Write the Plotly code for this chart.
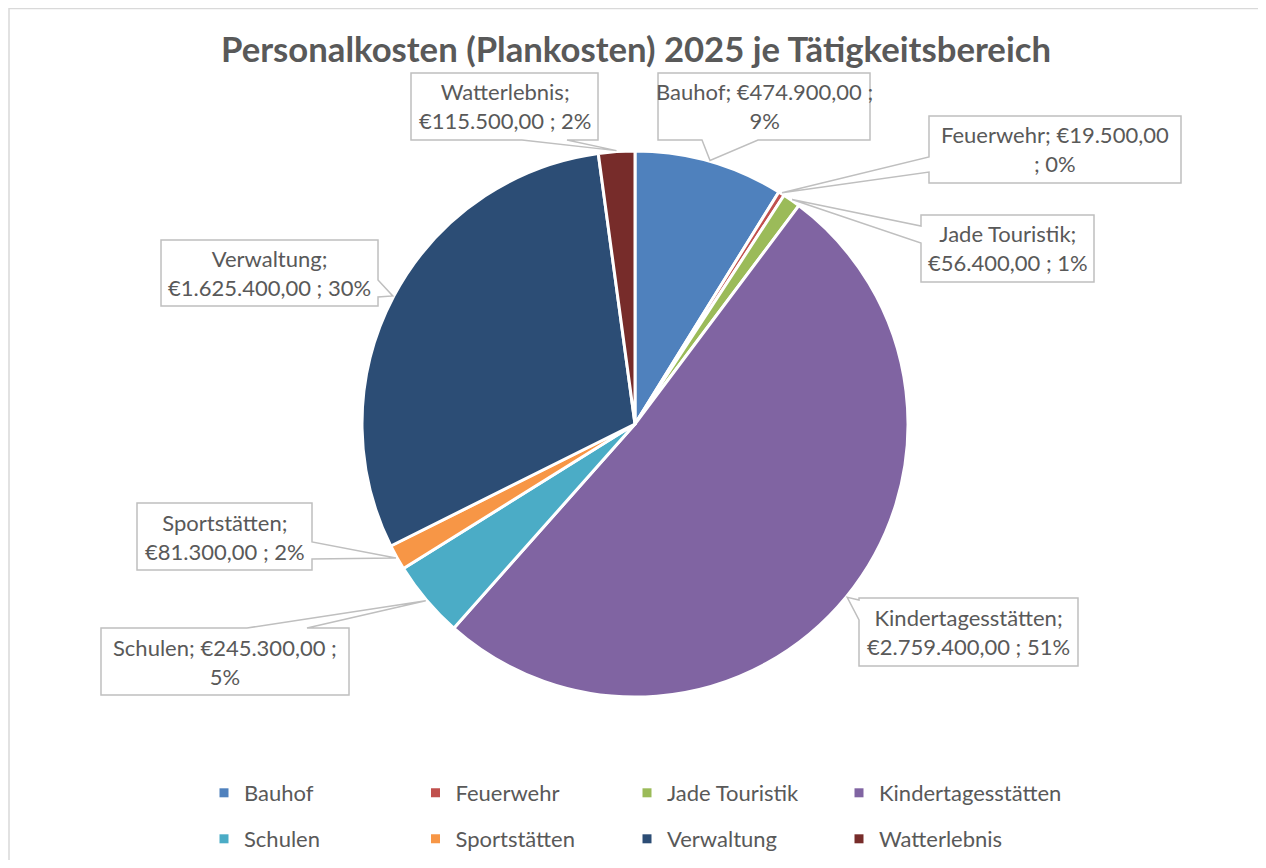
import math
import plotly.graph_objects as go

# ---- data ----
categories = ["Bauhof", "Feuerwehr", "Jade Touristik", "Kindertagesstätten",
              "Schulen", "Sportstätten", "Verwaltung", "Watterlebnis"]
costs_eur = [474900, 19500, 56400, 2759400, 245300, 81300, 1625400, 115500]
colors = ["#4F81BD", "#C0504D", "#9BBB59", "#8064A2",
          "#4BACC6", "#F79646", "#2C4D75", "#772C2A"]
title_text = "Personalkosten (Plankosten) 2025 je Tätigkeitsbereich"

# ---- layout / style (page pixel coordinates of the reference) ----
OFF = 8                      # browser body margin
W, H = 1256, 852
TXT = "#595959"
BOX = "#BFBFBF"
FONT = "Lato"
CX, CY, R = 635, 424, 273    # pie centre / radius

wrap_mode = {"Bauhof": "after_value", "Feuerwehr": "before_pct", "Schulen": "after_value"}
# callout boxes: (x0, y0, x1, y1, pointer side, base a, base b)
callouts = {
    "Watterlebnis": (411, 73, 598, 140, "bottom", 522, 567),
    "Bauhof": (658, 73, 870, 140, "bottom", 702, 758),
    "Feuerwehr": (929, 116, 1181, 183, "left", 157, 172),
    "Jade Touristik": (921, 215, 1094, 282, "left", 226, 243),
    "Kindertagesstätten": (859, 598, 1078, 666, "left", 600, 620),
    "Schulen": (101, 628, 349, 695, "top", 247, 307),
    "Sportstätten": (137, 503, 312, 570, "right", 542, 559),
    "Verwaltung": (161, 240, 378, 306, "right", 280, 297),
}
legend_col_x = [227, 438.5, 650, 862]   # marker centres
legend_row_y = [793, 839]


def fx(x):
    return (x - OFF) / W


def fy(y):
    return 1 - (y - OFF) / H


def eur(v):
    s = f"{v:,.2f}"
    s = s.replace(",", "X").replace(".", ",").replace("X", ".")
    return "€" + s


total = sum(costs_eur)

fig = go.Figure()
fig.add_trace(go.Pie(
    labels=categories, values=costs_eur, sort=False, direction="clockwise",
    rotation=0, textinfo="none", hoverinfo="label+value+percent",
    marker=dict(colors=colors, line=dict(color="white", width=3)),
    domain=dict(x=[fx(CX - R), fx(CX + R)], y=[fy(CY + R), fy(CY - R)]),
    showlegend=False,
))

legends = {}
for i, (name, c) in enumerate(zip(categories, colors)):
    key = "legend" if i == 0 else f"legend{i + 1}"
    fig.add_trace(go.Scatter(x=[None], y=[None], mode="markers", name=name,
                             marker=dict(symbol="square", size=9, color=c),
                             legend=key, hoverinfo="skip"))
    col, row = i % 4, i // 4
    legends[key] = dict(x=fx(legend_col_x[col] - 23), xanchor="left",
                        y=fy(legend_row_y[row]), yanchor="middle",
                        font=dict(family=FONT, size=22, color=TXT),
                        bgcolor="rgba(0,0,0,0)", borderwidth=0)

shapes = []
annotations = []
cum = 0.0
for name, v in zip(categories, costs_eur):
    mid = (cum + v / 2) / total * 2 * math.pi
    cum += v
    tx = CX + (R + 1) * math.sin(mid)
    ty = CY - (R + 1) * math.cos(mid)
    pct = f"{round(v / total * 100)}%"
    mode = wrap_mode.get(name, "after_name")
    if mode == "after_value":
        text = f"{name}; {eur(v)} ;<br>{pct}"
    elif mode == "before_pct":
        text = f"{name}; {eur(v)}<br>; {pct}"
    else:
        text = f"{name};<br>{eur(v)} ; {pct}"
    x0, y0, x1, y1, side, a, b = callouts[name]
    if side == "bottom":
        pts = [(x0, y0), (x1, y0), (x1, y1), (b, y1), (tx, ty), (a, y1), (x0, y1)]
    elif side == "top":
        pts = [(x0, y0), (a, y0), (tx, ty), (b, y0), (x1, y0), (x1, y1), (x0, y1)]
    elif side == "left":
        pts = [(x0, y0), (x1, y0), (x1, y1), (x0, y1), (x0, b), (tx, ty), (x0, a)]
    else:
        pts = [(x0, y0), (x1, y0), (x1, a), (tx, ty), (x1, b), (x1, y1), (x0, y1)]
    path = "M " + " L ".join(f"{fx(x):.5f},{fy(y):.5f}" for x, y in pts) + " Z"
    shapes.append(dict(type="path", xref="paper", yref="paper", path=path,
                       fillcolor="white", line=dict(color=BOX, width=1.5), layer="above"))
    annotations.append(dict(xref="paper", yref="paper", x=fx((x0 + x1) / 2), y=fy((y0 + y1) / 2),
                            xanchor="center", yanchor="middle", align="center", showarrow=False,
                            text=text, font=dict(family=FONT, size=22, color=TXT)))

# outer chart border
shapes.append(dict(type="rect", xref="paper", yref="paper", x0=fx(9), x1=fx(1259), y0=fy(8.5), y1=fy(900),
                   line=dict(color="#D9D9D9", width=1.5), fillcolor="rgba(0,0,0,0)", layer="below"))

fig.update_layout(
    width=W, height=H,
    margin=dict(l=0, r=0, t=0, b=0, autoexpand=False),
    paper_bgcolor="white", plot_bgcolor="white",
    xaxis=dict(visible=False), yaxis=dict(visible=False),
    title=dict(text=title_text, x=0.5, xanchor="center", y=fy(50), yanchor="middle",
               font=dict(family=FONT, size=34.7, color=TXT, weight="bold")),
    shapes=shapes, annotations=annotations,
    **legends,
)

fig.write_html("out.html")
